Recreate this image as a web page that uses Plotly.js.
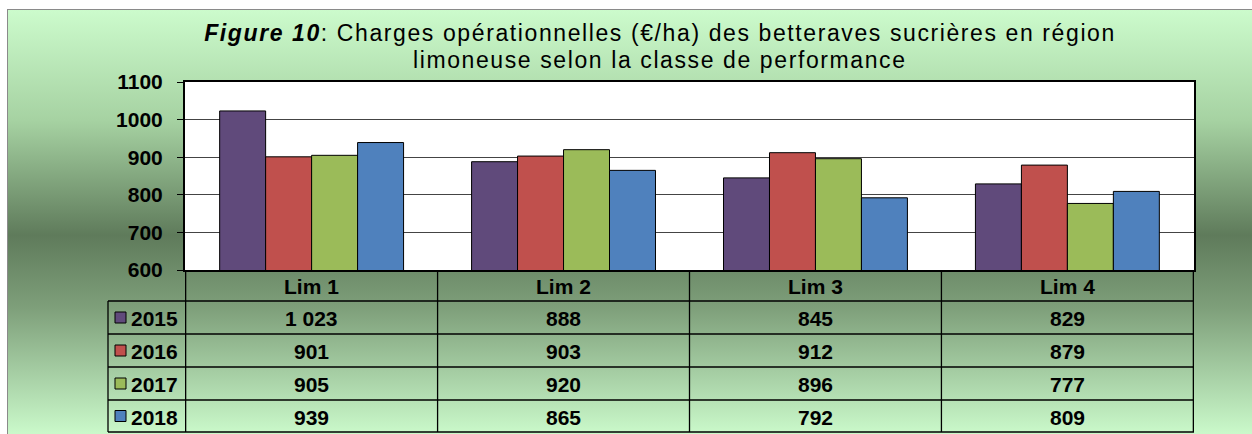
<!DOCTYPE html>
<html>
<head>
<meta charset="utf-8">
<script src="https://cdn.plot.ly/plotly-3.0.1.min.js"></script>
<style>
html,body{margin:0;padding:0;background:#fff;}
#frame{position:absolute;left:7px;top:9px;width:1245px;height:425px;border-left:1px solid #8a8a8a;border-top:1px solid #8a8a8a;
background:linear-gradient(to bottom,#ccfbcc 0%,#a6d2a2 26%,#5f7b5b 53%,#7e9f7a 70%,#cbfacb 100%);}
#chart{position:absolute;left:0;top:0;width:1252px;height:434px;}
#chart g.annotation[data-index="0"] text, #chart g.annotation[data-index="1"] text{letter-spacing:1.6px;}
</style>
</head>
<body>
<div id="frame"></div>
<div id="chart"></div>
<script>
const categories = ["Lim 1", "Lim 2", "Lim 3", "Lim 4"];
const seriesNames = ["2015", "2016", "2017", "2018"];
const v2015 = [1023, 888, 845, 829];
const v2016 = [901, 903, 912, 879];
const v2017 = [905, 920, 896, 777];
const v2018 = [939, 865, 792, 809];
const colors = ["#604A7B", "#C0504D", "#9BBB59", "#4F81BD"];
const yTicks = [600, 700, 800, 900, 1000, 1100];
const titleLine1 = "<b><i>Figure 10</i></b>: Charges opérationnelles (€/ha) des betteraves sucrières en région";
const titleLine2 = "limoneuse selon la classe de performance";

const seriesValues = [v2015, v2016, v2017, v2018];
const W = 1252, H = 434;
const px = x => x / W;
const py = y => 1 - y / H;

const FONT = "Liberation Sans, Arial, sans-serif";

const traces = seriesNames.map((n, i) => ({
  type: "bar",
  name: n,
  x: categories,
  y: seriesValues[i],
  marker: {color: colors[i], line: {color: "#000", width: 1}},
  hoverinfo: "skip"
}));

function fmt(v) {
  return String(v).replace(/\B(?=(\d{3})+(?!\d))/g, " ");
}

const rowTop = [301, 334, 367, 400];
const rowBot = [334, 367, 400, 432];
const shapes = [];
const annotations = [];
const lineStyle = {color: "#000", width: 1.3};

// title (two lines) - first so CSS indexes 0 and 1 apply
annotations.push({xref: "paper", yref: "paper", x: px(660), y: py(33), text: titleLine1,
  showarrow: false, font: {family: FONT, size: 23, color: "#000"}, xanchor: "center", yanchor: "middle"});
annotations.push({xref: "paper", yref: "paper", x: px(660), y: py(60), text: titleLine2,
  showarrow: false, font: {family: FONT, size: 23, color: "#000"}, xanchor: "center", yanchor: "middle"});

// horizontal lines of table
[301, 334, 367, 400, 432].forEach(y => {
  shapes.push({type: "line", xref: "paper", yref: "paper", x0: px(108), x1: px(1194), y0: py(y), y1: py(y), line: lineStyle});
});
// vertical lines between categories
for (let i = 0; i <= categories.length; i++) {
  shapes.push({type: "line", xref: "x", yref: "paper", x0: i - 0.5, x1: i - 0.5, y0: py(270), y1: py(432), line: lineStyle});
}
// left edge of label column
shapes.push({type: "line", xref: "paper", yref: "paper", x0: px(108), x1: px(108), y0: py(301), y1: py(432), line: lineStyle});

// header labels
categories.forEach((c, i) => {
  annotations.push({xref: "x", yref: "paper", x: i, y: py(286), text: "<b>" + c + "</b>", showarrow: false,
    font: {family: FONT, size: 21, color: "#000"}, xanchor: "center", yanchor: "middle"});
});
// rows
seriesNames.forEach((n, r) => {
  const yc = (rowTop[r] + rowBot[r]) / 2;
  shapes.push({type: "rect", xref: "paper", yref: "paper", x0: px(115), x1: px(126), y0: py(yc - 5.5), y1: py(yc + 5.5),
    fillcolor: colors[r], line: {color: "#000", width: 1}});
  annotations.push({xref: "paper", yref: "paper", x: px(129), y: py(yc + 1), text: "<b>" + n + "</b>", showarrow: false,
    font: {family: FONT, size: 21, color: "#000"}, xanchor: "left", yanchor: "middle"});
  seriesValues[r].forEach((v, i) => {
    annotations.push({xref: "x", yref: "paper", x: i, y: py(yc + 1), text: "<b>" + fmt(v) + "</b>", showarrow: false,
      font: {family: FONT, size: 21, color: "#000"}, xanchor: "center", yanchor: "middle"});
  });
});

const layout = {
  width: W, height: H,
  margin: {l: 0, r: 0, t: 0, b: 0, pad: 0},
  paper_bgcolor: "rgba(0,0,0,0)",
  plot_bgcolor: "#fff",
  barmode: "group",
  bargap: 0.27,
  bargroupgap: 0,
  showlegend: false,
  xaxis: {domain: [px(185), px(1194)], showticklabels: false, ticks: "", showgrid: false,
    showline: true, linecolor: "#000", linewidth: 2, mirror: true, zeroline: false, fixedrange: true},
  yaxis: {domain: [py(270), py(82)], range: [600, 1100], tickvals: yTicks, ticktext: yTicks.map(String),
    ticks: "outside", ticklen: 6, tickcolor: "#000", tickwidth: 1, ticklabelstandoff: 10,
    showgrid: true, gridcolor: "#444", gridwidth: 1, showline: true, linecolor: "#000", linewidth: 2, mirror: true,
    zeroline: false, tickfont: {family: FONT, size: 21, color: "#000", weight: "bold"}, fixedrange: true},
  shapes: shapes,
  annotations: annotations
};

Plotly.newPlot("chart", traces, layout, {displayModeBar: false, staticPlot: true});
</script>
</body>
</html>
